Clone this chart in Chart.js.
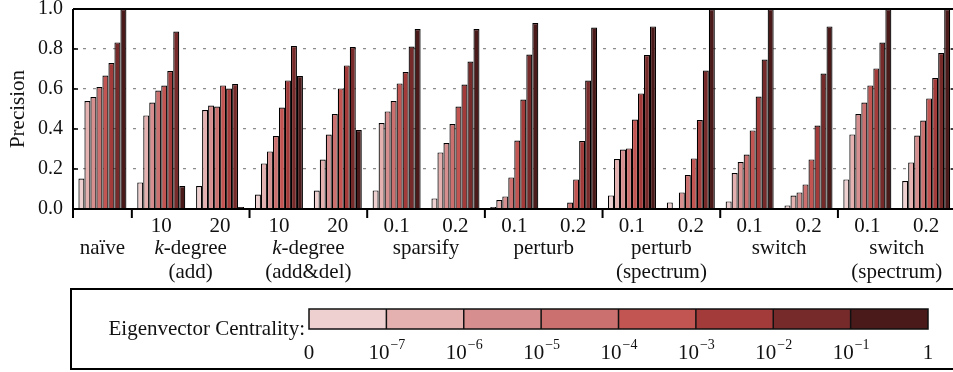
<!DOCTYPE html>
<html>
<head>
<meta charset="utf-8">
<script src="https://cdn.jsdelivr.net/npm/chart.js@4/dist/chart.umd.min.js"></script>
<style>
  html, body { margin: 0; padding: 0; background: #fff; overflow: hidden; }
  #wrap { position: absolute; left: 0; top: 0; width: 960px; height: 372px; }
</style>
</head>
<body>
<div id="wrap"><canvas id="chart"></canvas></div>
<script>
// sub-category ticks under each bar group
const categories = ['', '10', '20', '10', '20', '0.1', '0.2', '0.1', '0.2', '0.1', '0.2', '0.1', '0.2', '0.1', '0.2'];

// method names and how many sub-categories each one spans
const groupNames = [
  ['naïve'],
  ['k-degree', '(add)'],
  ['k-degree', '(add&del)'],
  ['sparsify'],
  ['perturb'],
  ['perturb', '(spectrum)'],
  ['switch'],
  ['switch', '(spectrum)']
];
const groupSpans = [1, 2, 2, 2, 2, 2, 2, 2];

// precision per eigenvector-centrality bin
const bin0 = [0.152, 0.133, 0.115, 0.072, 0.092, 0.093, 0.053, 0.01, 0, 0.068, 0.033, 0.038, 0.018, 0.148, 0.14];
const bin1 = [0.54, 0.468, 0.495, 0.228, 0.247, 0.43, 0.283, 0.045, 0, 0.25, 0, 0.18, 0.067, 0.373, 0.233];
const bin2 = [0.56, 0.532, 0.517, 0.288, 0.372, 0.488, 0.33, 0.063, 0.005, 0.297, 0.083, 0.235, 0.083, 0.475, 0.367];
const bin3 = [0.61, 0.592, 0.512, 0.365, 0.475, 0.54, 0.425, 0.158, 0.032, 0.303, 0.17, 0.272, 0.123, 0.532, 0.442];
const bin4 = [0.667, 0.617, 0.618, 0.507, 0.603, 0.628, 0.512, 0.342, 0.148, 0.447, 0.253, 0.393, 0.248, 0.618, 0.553];
const bin5 = [0.73, 0.69, 0.602, 0.643, 0.718, 0.685, 0.622, 0.547, 0.34, 0.578, 0.445, 0.562, 0.417, 0.703, 0.655];
const bin6 = [0.833, 0.887, 0.625, 0.815, 0.81, 0.812, 0.737, 0.772, 0.642, 0.77, 0.692, 0.747, 0.677, 0.832, 0.78];
const bin7 = [1.0, 0.115, 0.01, 0.665, 0.395, 0.9, 0.9, 0.93, 0.907, 0.913, 1.0, 1.0, 0.913, 1.0, 1.0];

const yTicks = [0, 0.2, 0.4, 0.6, 0.8, 1.0];
const binTicks = ['0', '-7', '-6', '-5', '-4', '-3', '-2', '-1', '1'];
const shades = ['#efd0d1', '#e4b1b0', '#d78e8e', '#cb706e', '#c25452', '#a33b3a', '#762a2a', '#4a1a1a'];

const serif = '"Liberation Serif", "Times New Roman", Times, "DejaVu Serif", serif';
const bins = [bin0, bin1, bin2, bin3, bin4, bin5, bin6, bin7];

// 🔵 frame, x labels, y title and the colour-bar legend
const decorations = {
  id: 'decorations',
  afterDraw(chart) {
    const ctx = chart.ctx;
    const a = chart.chartArea;
    const subW = (a.right - a.left) / categories.length;
    ctx.save();

    // axes box
    ctx.strokeStyle = '#000';
    ctx.lineWidth = 2;
    ctx.beginPath();
    ctx.moveTo(a.left, a.bottom); ctx.lineTo(a.right, a.bottom);
    ctx.moveTo(a.left, a.top); ctx.lineTo(a.right, a.top);
    ctx.moveTo(a.left, a.top); ctx.lineTo(a.left, a.bottom);
    ctx.moveTo(a.right, a.top); ctx.lineTo(a.right, a.bottom);
    ctx.stroke();

    // inward ticks on both sides
    ctx.lineWidth = 1.5;
    ctx.beginPath();
    yTicks.forEach(v => {
      const y = chart.scales.y.getPixelForValue(v);
      ctx.moveTo(a.left, y); ctx.lineTo(a.left + 5, y);
      ctx.moveTo(a.right - 5, y); ctx.lineTo(a.right, y);
    });
    ctx.stroke();

    // group separators below the axis
    ctx.lineWidth = 2;
    ctx.beginPath();
    let idx = 0;
    const bounds = [0];
    groupSpans.forEach(s => { idx += s; bounds.push(idx); });
    bounds.forEach(b => {
      const x = a.left + b * subW;
      ctx.moveTo(x, a.bottom); ctx.lineTo(x, a.bottom + 9);
    });
    ctx.stroke();

    // x labels
    ctx.fillStyle = '#111';
    ctx.textBaseline = 'middle';
    ctx.textAlign = 'center';
    ctx.font = '21px ' + serif;
    categories.forEach((c, i) => {
      if (c) ctx.fillText(c, a.left + (i + 0.5) * subW, a.bottom + 17);
    });
    groupNames.forEach((lines, g) => {
      const cx = a.left + (bounds[g] + groupSpans[g] / 2) * subW;
      lines.forEach((line, j) => {
        const y = a.bottom + 39 + j * 24;
        if (line.startsWith('k-')) {
          ctx.font = 'italic 21px ' + serif;
          const kw = ctx.measureText('k').width;
          ctx.font = '21px ' + serif;
          const rw = ctx.measureText(line.slice(1)).width;
          const x0 = cx - (kw + rw) / 2;
          ctx.textAlign = 'left';
          ctx.font = 'italic 21px ' + serif;
          ctx.fillText('k', x0, y);
          ctx.font = '21px ' + serif;
          ctx.fillText(line.slice(1), x0 + kw, y);
          ctx.textAlign = 'center';
        } else {
          ctx.fillText(line, cx, y);
        }
      });
    });

    // y title
    ctx.save();
    ctx.translate(18, (a.top + a.bottom) / 2);
    ctx.rotate(-Math.PI / 2);
    ctx.fillText('Precision', 0, 0);
    ctx.restore();

    // legend box
    ctx.strokeStyle = '#000';
    ctx.lineWidth = 2;
    ctx.strokeRect(71, 289, 890, 80);

    ctx.textAlign = 'right';
    ctx.fillText('Eigenvector Centrality:', 305, 329);

    const barL = 309, barR = 928, barT = 309, barH = 20;
    const cellW = (barR - barL) / shades.length;
    shades.forEach((c, i) => {
      ctx.fillStyle = c;
      ctx.fillRect(barL + i * cellW, barT, cellW, barH);
    });
    ctx.strokeStyle = '#111';
    ctx.lineWidth = 1.5;
    ctx.strokeRect(barL, barT, barR - barL, barH);
    ctx.beginPath();
    for (let i = 1; i < shades.length; i++) {
      ctx.moveTo(barL + i * cellW, barT); ctx.lineTo(barL + i * cellW, barT + barH);
    }
    ctx.stroke();

    // colour-bar tick labels
    ctx.fillStyle = '#111';
    binTicks.forEach((t, i) => {
      const x = barL + i * cellW;
      const y = 353;
      if (t === '0' || t === '1') {
        ctx.textAlign = 'center';
        ctx.font = '21px ' + serif;
        ctx.fillText(t, x, y);
        return;
      }
      ctx.font = '21px ' + serif;
      const bw = ctx.measureText('10').width;
      ctx.font = '14px ' + serif;
      const sup = '\u2212' + t.slice(1);
      const sw = ctx.measureText(sup).width;
      const x0 = x - (bw + sw) / 2;
      ctx.textAlign = 'left';
      ctx.font = '21px ' + serif;
      ctx.fillText('10', x0, y);
      ctx.font = '14px ' + serif;
      ctx.fillText(sup, x0 + bw + 1, y - 8);
    });

    ctx.restore();
  }
};

function drawChart() {
  new Chart(document.getElementById('chart'), {
    type: 'bar',
    data: {
      labels: categories,
      datasets: bins.map((vals, i) => ({
        label: 'bin ' + i,
        data: vals,
        backgroundColor: shades[i],
        borderColor: '#000',
        borderWidth: 1.2,
        barPercentage: 1,
        categoryPercentage: 0.816
      }))
    },
    options: {
      responsive: true,
      maintainAspectRatio: false,
      animation: false,
      layout: { padding: { left: 0, top: 9, right: 4.4, bottom: 163 } },
      plugins: { legend: { display: false }, tooltip: { enabled: false } },
      scales: {
        x: { display: false },
        y: {
          min: 0,
          max: 1,
          afterFit: s => { s.width = 73; s.paddingTop = 0; s.paddingBottom = 0; },
          ticks: {
            stepSize: 0.2,
            padding: 10,
            color: '#111',
            font: { family: serif, size: 20 },
            callback: v => Number(v).toFixed(1)
          },
          grid: {
            drawTicks: false,
            lineWidth: 1.3,
            color: c => (c.tick.value > 0 && c.tick.value < 1) ? '#8c8c8c' : 'rgba(0,0,0,0)'
          },
          border: { display: false, dash: [3, 7] }
        }
      }
    },
    plugins: [decorations]
  });
}

document.fonts.load('21px "Liberation Serif"').then(drawChart, drawChart);
</script>
</body>
</html>
